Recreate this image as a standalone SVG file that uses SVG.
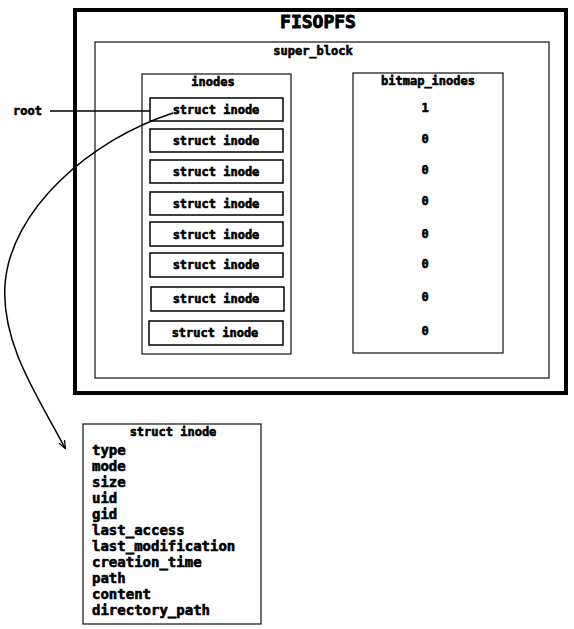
<svg xmlns="http://www.w3.org/2000/svg" width="574" height="629" viewBox="0 0 574 629">
<style>
text{font-family:"DejaVu Sans Mono","Liberation Mono",monospace;font-weight:bold;fill:#000;stroke:#000;stroke-width:0.6;}
.c{text-anchor:middle;font-size:12px;}
.f{font-size:14px;}
.box{fill:#fff;stroke:#000;stroke-width:1.5;}
.thin{fill:none;stroke:#222;stroke-width:1.3;}
.con{fill:none;stroke:#000;stroke-width:1.5;}
</style>
<defs>
<marker id="ah" viewBox="0 0 10 10" refX="9" refY="5" markerWidth="8" markerHeight="8" orient="auto" markerUnits="userSpaceOnUse">
<path d="M0,1 L10,5 L0,9" fill="none" stroke="#000" stroke-width="1.6"/>
</marker>
</defs>
<rect width="574" height="629" fill="#fff"/>
<g id="fisopfs">
<rect x="75" y="10" width="491" height="383" fill="#fff" stroke="#000" stroke-width="4"/>
<text x="318" y="28" text-anchor="middle" font-size="18" style="stroke-width:0.9">FISOPFS</text>
</g>
<g id="super_block">
<rect x="95" y="42" width="454" height="336" class="thin"/>
<text class="c" x="313" y="55">super_block</text>
</g>
<g id="inodes">
<rect x="142" y="74" width="149" height="280" class="thin"/>
<text class="c" x="213" y="86">inodes</text>
</g>
<g id="inode1"><rect x="150" y="98" width="133" height="23" class="box"/><text class="c" x="216" y="114">struct inode</text></g>
<g id="inode2"><rect x="150" y="129" width="133" height="23" class="box"/><text class="c" x="216" y="145">struct inode</text></g>
<g id="inode3"><rect x="150" y="160" width="133" height="23" class="box"/><text class="c" x="216" y="176">struct inode</text></g>
<g id="inode4"><rect x="150" y="192" width="133" height="23" class="box"/><text class="c" x="216" y="208">struct inode</text></g>
<g id="inode5"><rect x="150" y="222" width="133" height="24" class="box"/><text class="c" x="216" y="239">struct inode</text></g>
<g id="inode6"><rect x="150" y="253" width="133" height="24" class="box"/><text class="c" x="216" y="269">struct inode</text></g>
<g id="inode7"><rect x="151" y="287" width="133" height="24" class="box"/><text class="c" x="216" y="303">struct inode</text></g>
<g id="inode8"><rect x="149" y="321" width="134" height="24" class="box"/><text class="c" x="215" y="337">struct inode</text></g>
<g id="bitmap_inodes">
<rect x="353" y="73" width="150" height="280" class="thin"/>
<text class="c" x="428" y="85">bitmap_inodes</text>
<text class="c" x="425" y="112">1</text>
<text class="c" x="425" y="143">0</text>
<text class="c" x="425" y="174">0</text>
<text class="c" x="425" y="205">0</text>
<text class="c" x="425" y="238">0</text>
<text class="c" x="425" y="268">0</text>
<text class="c" x="425" y="301">0</text>
<text class="c" x="425" y="335">0</text>
</g>
<g id="root">
<text x="13" y="115" font-size="12">root</text>
</g>
<g id="struct_inode_detail">
<rect x="83" y="424" width="178" height="200" class="thin"/>
<text class="c" x="173" y="436">struct inode</text>
<text class="f" x="92" y="455">type</text>
<text class="f" x="92" y="471">mode</text>
<text class="f" x="92" y="487">size</text>
<text class="f" x="92" y="503">uid</text>
<text class="f" x="92" y="519">gid</text>
<text class="f" x="92" y="535">last_access</text>
<text class="f" x="92" y="551">last_modification</text>
<text class="f" x="92" y="567">creation_time</text>
<text class="f" x="92" y="583">path</text>
<text class="f" x="92" y="599">content</text>
<text class="f" x="92" y="615">directory_path</text>
</g>
<g id="connectors">
<line x1="50" y1="111" x2="150" y2="111" class="con"/>
<path d="M173,113 C90,140 10,210 5,285 C1,345 40,400 65,448" class="con" marker-end="url(#ah)"/>
</g>
</svg>
